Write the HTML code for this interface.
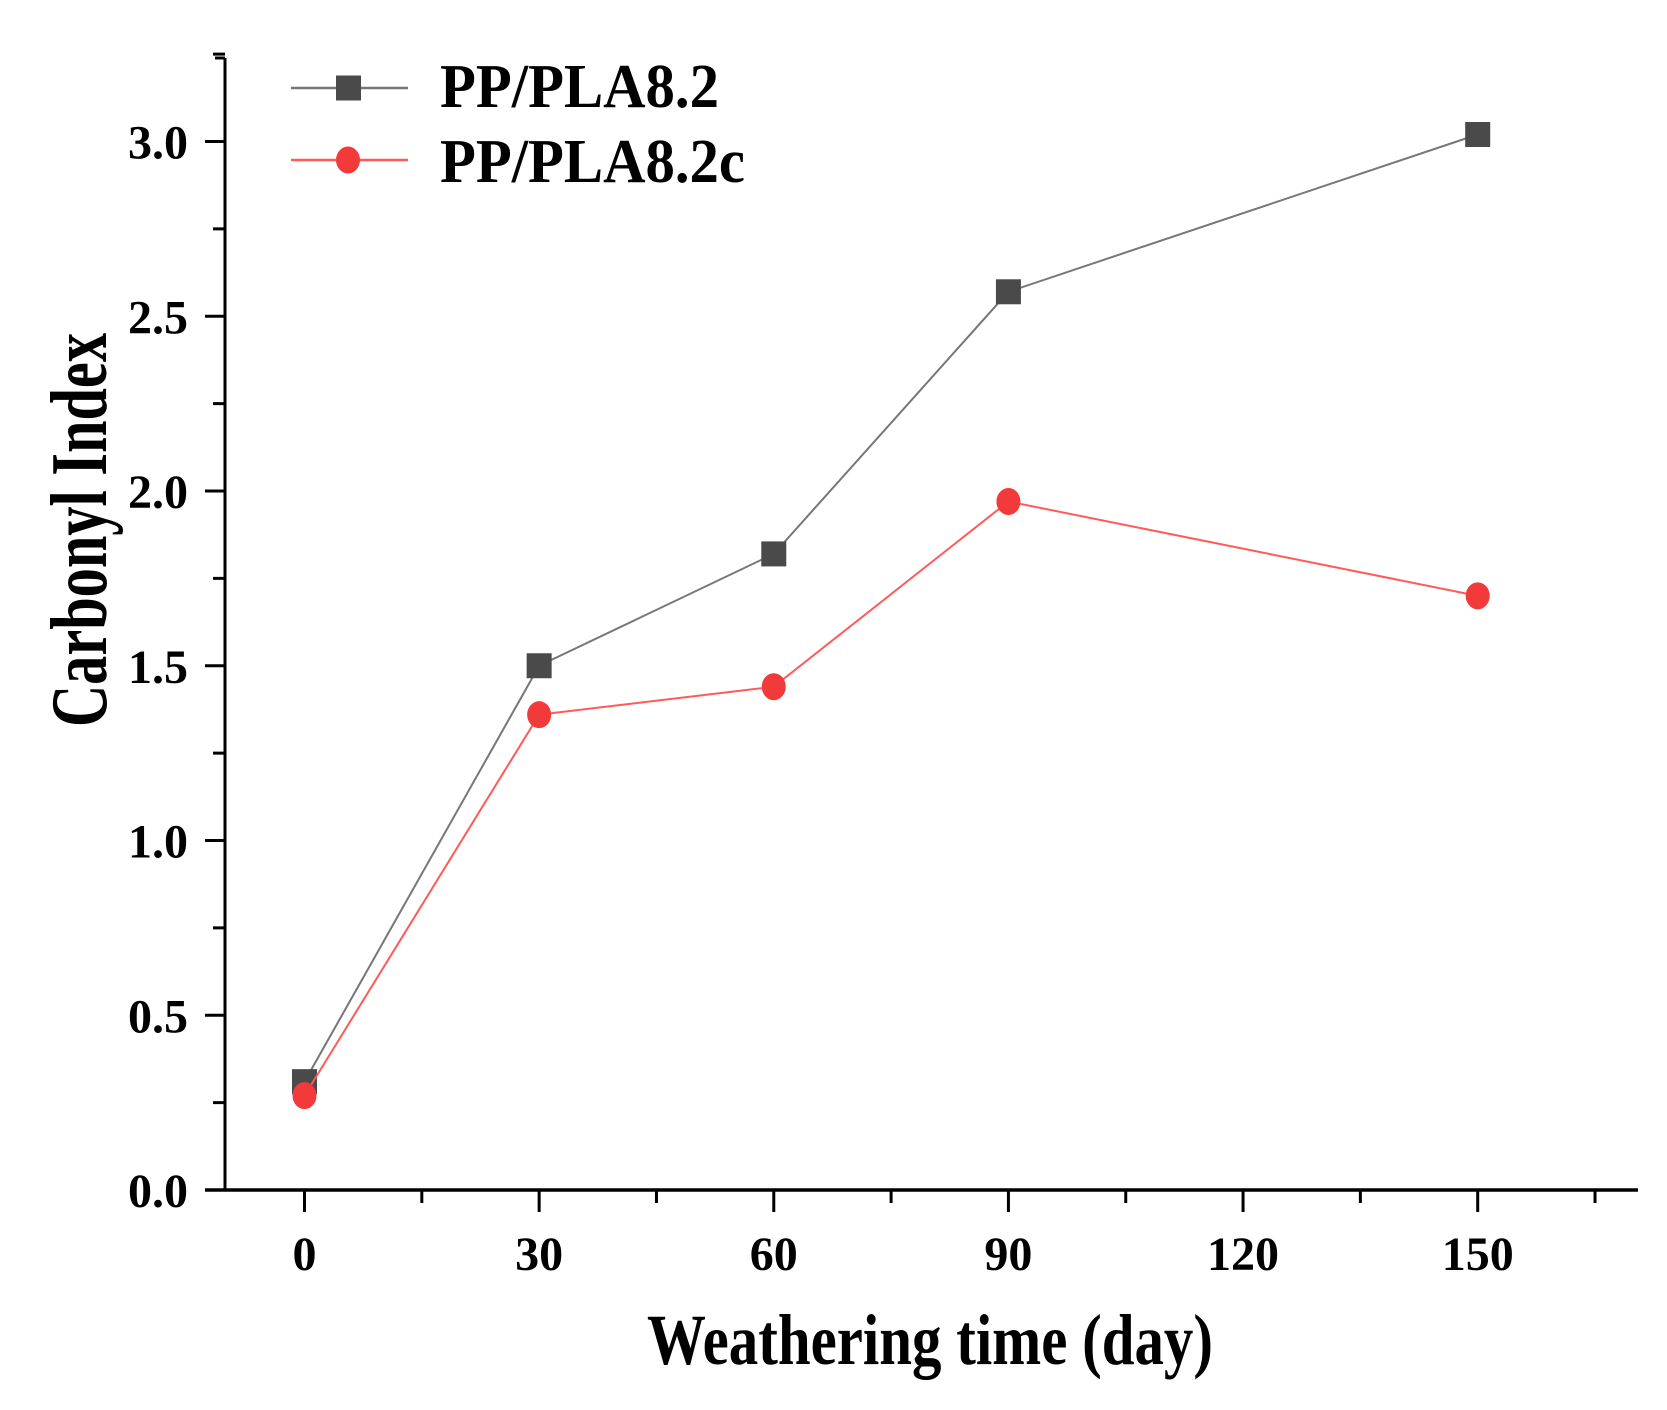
<!DOCTYPE html>
<html><head><meta charset="utf-8"><style>
html,body{margin:0;padding:0;background:#fff}
svg{display:block}
text{font-family:"Liberation Serif",serif;font-weight:bold;fill:#000}
</style></head><body>
<svg id="chart" width="1667" height="1410" viewBox="0 0 1667 1410" xmlns="http://www.w3.org/2000/svg">
<g id="axes"></g>
<g id="series"></g>
<g id="legend"></g>
<text x="0" y="0" font-size="80" text-anchor="middle" textLength="394" lengthAdjust="spacingAndGlyphs" transform="translate(106,530) rotate(-90)">Carbonyl Index</text>
<text x="930" y="1364" font-size="72" text-anchor="middle" textLength="566" lengthAdjust="spacingAndGlyphs">Weathering time (day)</text>
</svg>
<script>
const days = [0, 30, 60, 90, 150];
const seriesA = [0.31, 1.50, 1.82, 2.57, 3.02];
const seriesB = [0.27, 1.36, 1.44, 1.97, 1.70];
const seriesNames = ["PP/PLA8.2", "PP/PLA8.2c"];
const xTicks = [0, 30, 60, 90, 120, 150];
const yTicks = [0.0, 0.5, 1.0, 1.5, 2.0, 2.5, 3.0];

const NS = "http://www.w3.org/2000/svg";
const X0 = 304.5, XS = (1477.7 - 304.5) / 150;
const Y0 = 1190, YS = 349.5;
const xs = v => X0 + v * XS;
const ys = v => Y0 - v * YS;
const L = 225, R = 1638, T = 58;
function mk(tag, attrs, parent) {
  const e = document.createElementNS(NS, tag);
  for (const k in attrs) e.setAttribute(k, attrs[k]);
  parent.appendChild(e);
  return e;
}
const axes = document.getElementById('axes');
let e = mk('line', {x1: L, y1: T, x2: L, y2: Y0 + 1, stroke: '#000', 'stroke-width': 3}, axes);


e = mk('line', {x1: L - 20, y1: Y0, x2: R, y2: Y0, stroke: '#000', 'stroke-width': 3.5}, axes);


mk('line', {x1: L - 10, y1: T, x2: L, y2: T, stroke: '#000', 'stroke-width': 3}, axes);
for (let v = 0.25; v <= 3.25; v += 0.5) {
  mk('line', {x1: L - 12, y1: ys(v), x2: L, y2: ys(v), stroke: '#000', 'stroke-width': 3}, axes);
}
yTicks.forEach(v => {
  mk('line', {x1: L - 20, y1: ys(v), x2: L, y2: ys(v), stroke: '#000', 'stroke-width': 3}, axes);
  const t = mk('text', {x: 188, y: ys(v) + 17, 'font-size': 48, 'text-anchor': 'end'}, axes);
  t.textContent = v.toFixed(1);
  
  
});
for (let v = 15; v <= 165; v += 30) {
  mk('line', {x1: xs(v), y1: Y0, x2: xs(v), y2: Y0 + 13, stroke: '#000', 'stroke-width': 3}, axes);
}
xTicks.forEach(v => {
  mk('line', {x1: xs(v), y1: Y0, x2: xs(v), y2: Y0 + 22, stroke: '#000', 'stroke-width': 3}, axes);
  const t = mk('text', {x: xs(v), y: 1270, 'font-size': 48, 'text-anchor': 'middle'}, axes);
  t.textContent = v;
  
  
});
const ser = document.getElementById('series');
function drawSeries(vals, color, lineColor, shape, name) {
  const g = mk('g', {}, ser);
  
  
  const pts = days.map((d, i) => xs(d) + ',' + ys(vals[i])).join(' ');
  mk('polyline', {points: pts, fill: 'none', stroke: lineColor, 'stroke-width': 2}, g);
  days.forEach((d, i) => {
    let m;
    if (shape === 'square') m = mk('rect', {x: xs(d) - 12.5, y: ys(vals[i]) - 12.5, width: 25, height: 25, fill: color}, g);
    else m = mk('ellipse', {cx: xs(d), cy: ys(vals[i]), rx: 12, ry: 13.5, fill: color}, g);
    
    
  });
}
drawSeries(seriesA, '#4a4a4a', '#777', 'square', 'series-pp-pla82');
drawSeries(seriesB, '#f23a3a', '#ff5a5a', 'circle', 'series-pp-pla82c');
const lg = document.getElementById('legend');
[[88, '#777', '#4a4a4a', 'square', 107, 279], [160, '#ff5a5a', '#f23a3a', 'circle', 182, 305]].forEach((r, i) => {
  const g = mk('g', {}, lg);
  
  
  mk('line', {x1: 291, y1: r[0], x2: 408, y2: r[0], stroke: r[1], 'stroke-width': 2.5}, g);
  if (r[3] === 'square') mk('rect', {x: 336, y: r[0] - 12.5, width: 25, height: 25, fill: r[2]}, g);
  else mk('ellipse', {cx: 348, cy: r[0], rx: 12, ry: 13.5, fill: r[2]}, g);
  const t = mk('text', {x: 440, y: r[4], 'font-size': 62, textLength: r[5], lengthAdjust: 'spacingAndGlyphs'}, g);
  t.textContent = seriesNames[i];
});
</script>
</body></html>
